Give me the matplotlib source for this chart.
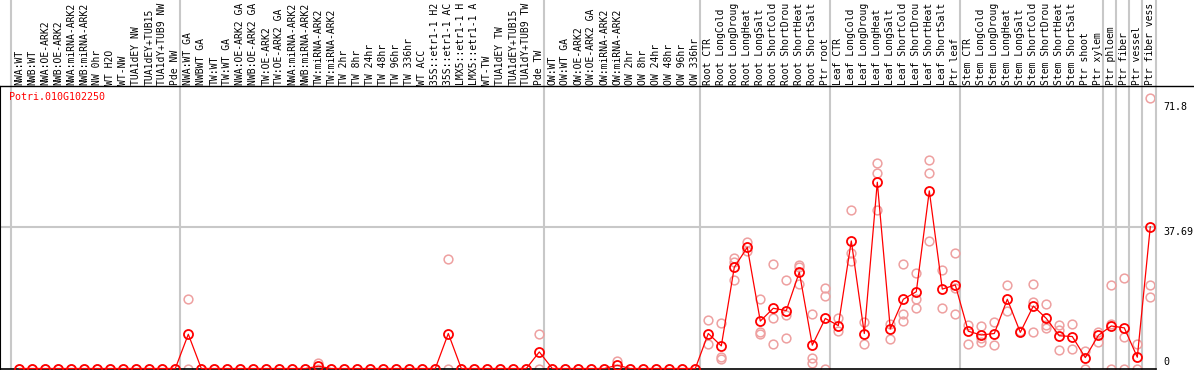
import matplotlib
matplotlib.use("Agg")
import matplotlib.pyplot as plt
import matplotlib.transforms as mtransforms
from matplotlib.lines import Line2D

gene = "Potri.010G102250"

labels = [
    "NWA:WT", "NWB:WT", "NWA:OE-ARK2", "NWB:OE-ARK2", "NWA:miRNA-ARK2", "NWB:miRNA-ARK2",
    "NW 0hr", "WT H2O", "WT-NW", "TUA1dEY NW", "TUA1dEY+TUB15", "TUA1dY+TUB9 NW", "Pde NW",
    "NWA:WT GA", "NWBWT GA", "TW:WT", "TW:WT GA", "NWA:OE-ARK2 GA", "NWB:OE-ARK2 GA",
    "TW:OE-ARK2", "TW:OE-ARK2 GA", "NWA:miRNA-ARK2", "NWB:miRNA-ARK2", "TW:miRNA-ARK2",
    "TW:miRNA-ARK2", "TW 2hr", "TW 8hr", "TW 24hr", "TW 48hr", "TW 96hr", "TW 336hr",
    "WT ACC", "35S::etr1-1 H2", "35S::etr1-1 AC", "LMX5::etr1-1 H", "LMX5::etr1-1 A",
    "WT-TW", "TUA1dEY TW", "TUA1dEY+TUB15", "TUA1dY+TUB9 TW", "Pde TW",
    "OW:WT", "OW:WT GA", "OW:OE-ARK2", "OW:OE-ARK2 GA", "OW:miRNA-ARK2", "OW:miRNA-ARK2",
    "OW 2hr", "OW 8hr", "OW 24hr", "OW 48hr", "OW 96hr", "OW 336hr",
    "Root CTR", "Root LongCold", "Root LongDroug", "Root LongHeat", "Root LongSalt",
    "Root ShortCold", "Root ShortDrou", "Root ShortHeat", "Root ShortSalt", "Ptr root",
    "Leaf CTR", "Leaf LongCold", "Leaf LongDroug", "Leaf LongHeat", "Leaf LongSalt",
    "Leaf ShortCold", "Leaf ShortDrou", "Leaf ShortHeat", "Leaf ShortSalt", "Ptr leaf",
    "Stem CTR", "Stem LongCold", "Stem LongDroug", "Stem LongHeat", "Stem LongSalt",
    "Stem ShortCold", "Stem ShortDrou", "Stem ShortHeat", "Stem ShortSalt", "Ptr shoot",
    "Ptr xylem", "Ptr phloem", "Ptr fiber", "Ptr vessel", "Ptr fiber vess",
]

# mean expression per sample
means = [
    0, 0, 0, 0, 0, 0, 0, 0, 0, 0, 0, 0, 0,
    9.1, 0, 0, 0, 0, 0, 0, 0, 0, 0, 0.6, 0, 0, 0, 0, 0, 0, 0, 0, 0, 9.3, 0, 0, 0, 0, 0, 0, 4.4,
    0, 0, 0, 0, 0, 0.85, 0, 0, 0, 0, 0, 0,
    9.3, 6.0, 26.9, 32.2, 12.6, 16.0, 15.4, 25.6, 6.2, 13.3,
    11.4, 33.9, 9.3, 49.5, 10.5, 18.4, 20.4, 47.2, 21.1, 22.2,
    9.9, 8.9, 9.3, 18.4, 9.6, 16.6, 13.3, 8.7, 8.5, 2.9,
    8.8, 11.3, 10.8, 3.0, 37.69,
]

# individual replicates
reps = [
    [0], [0], [0], [0], [0], [0], [0], [0], [0], [0], [0], [0], [0],
    [18.4, 0], [0], [0], [0], [0], [0], [0], [0], [0], [0], [1.5, 0], [0], [0], [0], [0], [0],
    [0], [0], [0], [0], [29.1, 0], [0], [0], [0], [0], [0], [0], [9.1, 0],
    [0], [0], [0], [0], [0], [1.9, 0], [0], [0], [0], [0], [0], [0],
    [12.9, 6.4], [12.0, 3.0, 2.6], [29.3, 28.4, 23.6], [33.6, 31.1], [18.4, 9.6, 9.1],
    [27.9, 13.4, 6.6], [23.4, 14.1, 8.2], [27.5, 26.9, 22.4], [14.4, 2.7, 1.4], [21.3, 19.2, 0],
    [13.3, 9.9], [42.1, 30.6, 28.6], [12.3, 6.4], [54.5, 51.9, 42.1], [11.9, 7.8],
    [27.9, 14.6, 12.5], [25.5, 18.6, 16.0], [55.4, 51.9, 33.9], [26.1, 16.0], [30.6, 21.3, 14.6],
    [11.5, 6.6], [11.2, 8.0, 7.1], [12.3, 6.2], [22.2, 15.3], [10.0],
    [22.4, 17.6, 9.6], [17.1, 11.5, 10.7], [11.6, 10.2, 4.8], [11.9, 5.1], [4.6, 0],
    [9.8, 7.1], [22.2, 11.9, 0], [24.0, 8.4, 0], [6.5, 0], [71.8, 22.2, 19.0],
]

group_ends = [-1, 12, 40, 52, 62, 72, 83, 84, 85, 86]
max_val = 71.8
ref_val = 37.69

W, H = 1194, 370
px_per_unit = 3.763
fig = plt.figure(figsize=(W / 100, H / 100), dpi=100)
ax = fig.add_axes([0, 1.5 / H, 1156 / W, 368.5 / H])
ax.set_xlim(-19.3 / 13, (1156 - 19.3) / 13)
top = 368.5 / px_per_unit
ax.set_ylim(0, top)
header = (368.5 - 86) / px_per_unit

mono = "DejaVu Sans Mono"
fs = 7.2

for g in group_ends:
    ax.axvline(g + 0.36, color="#c8c8c8", lw=1.5, zorder=1)
ax.axhline(ref_val, color="#c8c8c8", lw=1.5, zorder=1)

ax.spines["top"].set_visible(False)
ax.spines["right"].set_color("#c8c8c8")
ax.spines["right"].set_linewidth(1.5)
ax.spines["left"].set_bounds(0, header)
ax.spines["bottom"].set_linewidth(1.2)
ax.set_xticks([])
ax.set_yticks([])

rx = [i for i, r in enumerate(reps) for _ in r]
ry = [v for r in reps for v in r]
ax.plot(rx, ry, "o", ms=6.3, mfc="none", mec="#eea0a0", mew=1.1, zorder=2, clip_on=False)
ax.plot(range(len(means)), means, "-", color="red", lw=0.9, zorder=3, clip_on=False)
ax.plot(range(len(means)), means, "o", ms=6.5, mfc="none", mec="red", mew=1.3, zorder=4, clip_on=False)

trans = mtransforms.blended_transform_factory(fig.transFigure, ax.transData)
fig.add_artist(Line2D([0, 1], [header, header], transform=trans, color="black", lw=1))

lab_y = (368.5 - 85) / px_per_unit
for i, lab in enumerate(labels):
    ax.text(i, lab_y, lab, rotation=90, ha="center", va="bottom",
            family=mono, fontsize=7.0, clip_on=False)

ax.text(9.3 / 1156, header - 11 / px_per_unit, gene,
        transform=mtransforms.blended_transform_factory(ax.transAxes, ax.transData),
        ha="left", va="center", family=mono, fontsize=fs, color="red")

for v, dy in [(max_val, -9), (ref_val, -5), (0, 6.5)]:
    ax.annotate(f"{v:g}", xy=(1, v), xycoords=("axes fraction", "data"),
                xytext=(7, dy), textcoords="offset pixels", ha="left", va="center",
                family=mono, fontsize=fs, annotation_clip=False)

fig.savefig("out.png", dpi=100)
